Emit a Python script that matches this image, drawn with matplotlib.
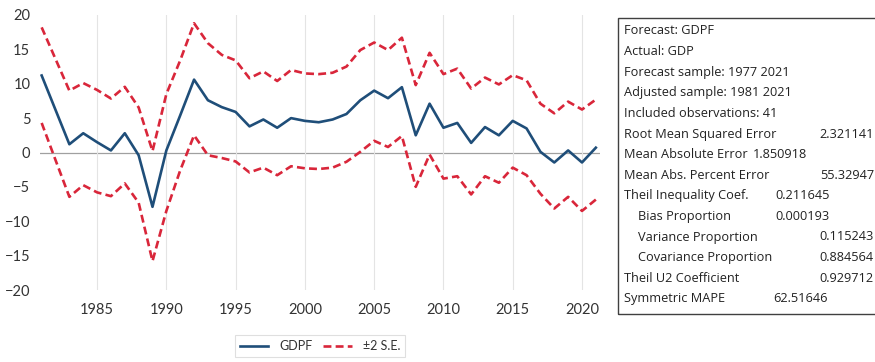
import matplotlib.pyplot as plt
import numpy as np

plt.rcParams['font.family'] = ['Lato', 'DejaVu Sans']

years = np.arange(1981, 2022)

# forecast GDPF
gdpf = [11.2, 6.2, 1.2, 2.8, 1.5, 0.3, 2.8, -0.4, -7.9, 0.3,
        5.4, 10.6, 7.6, 6.6, 5.9, 3.8, 4.8, 3.6, 5.0, 4.6,
        4.4, 4.8, 5.6, 7.6, 9.0, 7.9, 9.5, 2.5, 7.1, 3.6,
        4.3, 1.4, 3.7, 2.5, 4.6, 3.5, 0.1, -1.45, 0.3, -1.45,
        0.7]

# upper band (+2 S.E.)
upper = [18.2, 13.6, 9.0, 10.1, 9.1, 7.85, 9.55, 6.55, 0.2, 8.5,
         13.4, 18.8, 15.9, 14.2, 13.4, 10.8, 11.8, 10.4, 12.0, 11.5,
         11.4, 11.6, 12.5, 14.9, 16.0, 14.9, 16.7, 9.8, 14.5, 11.4,
         12.2, 9.3, 10.9, 9.9, 11.25, 10.5, 7.1, 5.7, 7.4, 6.25,
         7.7]

# lower band (-2 S.E.)
lower = [4.3, -1.1, -6.45, -4.75, -5.8, -6.35, -4.5, -7.3, -15.8, -8.5,
         -2.6, 2.5, -0.4, -0.8, -1.3, -2.9, -2.2, -3.3, -2.0, -2.3,
         -2.4, -2.2, -1.35, 0.1, 1.7, 0.8, 2.4, -5.0, -0.3, -3.8,
         -3.45, -6.1, -3.45, -4.4, -2.2, -3.3, -6.0, -8.15, -6.45, -8.5,
         -6.85]

stat_labels = ["Forecast: GDPF", "Actual: GDP", "Forecast sample: 1977 2021",
               "Adjusted sample: 1981 2021", "Included observations: 41",
               "Root Mean Squared Error", "Mean Absolute Error",
               "Mean Abs. Percent Error", "Theil Inequality Coef.",
               "Bias Proportion", "Variance Proportion",
               "Covariance Proportion", "Theil U2 Coefficient",
               "Symmetric MAPE"]
stat_values = ["", "", "", "", "", "2.321141", "1.850918", "55.32947",
               "0.211645", "0.000193", "0.115243", "0.884564", "0.929712",
               "62.51646"]

# layout of the stats box (pixels): label indent, value x, value alignment
indent = [0, 0, 0, 0, 0, 0, 0, 0, 0, 14, 14, 14, 0, 0]
val_x = [0, 0, 0, 0, 0, 874, 753, 874, 775, 775, 874, 874, 874, 773]
val_ha = ['left'] * 5 + ['right', 'left', 'right', 'left', 'left',
                         'right', 'right', 'right', 'left']

W, H = 875, 362
fig = plt.figure(figsize=(W / 100, H / 100), dpi=100)
ax = fig.add_axes([40 / W, 1 - 290 / H, 560 / W, 275 / H])

navy = '#1f4e79'
red = '#d9263a'
dash = (0, (3, 1.6))

ax.plot(years, gdpf, color=navy, lw=1.9, label='GDPF', zorder=3)
ax.plot(years, upper, color=red, lw=1.9, ls=dash, label='±2 S.E.', zorder=3)
ax.plot(years, lower, color=red, lw=1.9, ls=dash, zorder=3)
ax.axhline(0, color='#a0a0a0', lw=0.9, zorder=1)

ax.set_xlim(1980.88, 2021.3)
ax.set_ylim(-20, 20)
ax.set_xticks(np.arange(1985, 2021, 5))
ax.set_yticks(np.arange(-20, 21, 5))
ax.grid(axis='x', color='#e4e4e4', lw=0.8)
ax.tick_params(length=0, labelsize=10.5, colors='#333333')
ax.tick_params(axis='x', pad=9)
ax.tick_params(axis='y', pad=7)
for s in ax.spines.values():
    s.set_visible(False)

leg = ax.legend(loc='center', bbox_to_anchor=(320 / W, 1 - 346 / H),
                bbox_transform=fig.transFigure, ncol=2, fontsize=9,
                frameon=True, fancybox=False, handlelength=2.3,
                handletextpad=0.9, columnspacing=0.8, borderpad=0.4)
leg.get_frame().set_edgecolor('#d8d8d8')
leg.get_frame().set_linewidth(0.8)
for t in leg.get_texts():
    t.set_color('#333333')

# statistics box
box = plt.Rectangle((617.5 / W, 1 - 314 / H), 270 / W, 296 / H,
                    transform=fig.transFigure, fill=False,
                    edgecolor='#404040', lw=1.0)
fig.add_artist(box)
for i, lab in enumerate(stat_labels):
    y = 1 - (31 + i * 20.6) / H
    fig.text((624 + indent[i]) / W, y, lab, fontsize=9.2, family='Open Sans',
             va='center', ha='left', color='#222222')
    if stat_values[i]:
        fig.text(val_x[i] / W, y, stat_values[i], fontsize=9.2, family='Open Sans',
                 va='center', ha=val_ha[i], color='#222222')

fig.savefig('out.png', dpi=100)
